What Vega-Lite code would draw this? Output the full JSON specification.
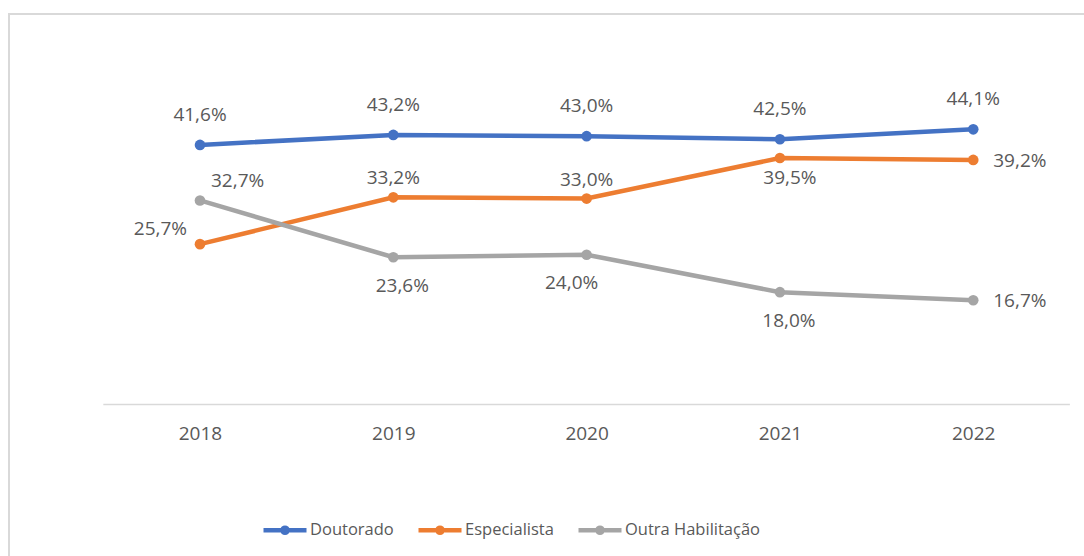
{
  "$schema": "https://vega.github.io/schema/vega-lite/v6.json",
  "width": 1075,
  "height": 542,
  "autosize": {"type": "none"},
  "padding": {"left": 9, "top": 14, "right": 0, "bottom": 0},
  "background": "white",
  "config": {
    "view": {"stroke": "#D9D9D9", "strokeWidth": 2, "strokeDash": [1075, 1617, 542]},
    "font": "Open Sans"
  },
  "data": {
    "values": [
      {"series": "Doutorado", "year": 2018, "value": 41.6},
      {"series": "Doutorado", "year": 2019, "value": 43.2},
      {"series": "Doutorado", "year": 2020, "value": 43.0},
      {"series": "Doutorado", "year": 2021, "value": 42.5},
      {"series": "Doutorado", "year": 2022, "value": 44.1},
      {"series": "Especialista", "year": 2018, "value": 25.7},
      {"series": "Especialista", "year": 2019, "value": 33.2},
      {"series": "Especialista", "year": 2020, "value": 33.0},
      {"series": "Especialista", "year": 2021, "value": 39.5},
      {"series": "Especialista", "year": 2022, "value": 39.2},
      {"series": "Outra Habilitação", "year": 2018, "value": 32.7},
      {"series": "Outra Habilitação", "year": 2019, "value": 23.6},
      {"series": "Outra Habilitação", "year": 2020, "value": 24.0},
      {"series": "Outra Habilitação", "year": 2021, "value": 18.0},
      {"series": "Outra Habilitação", "year": 2022, "value": 16.7}
    ]
  },
  "transform": [
    {"calculate": "replace(format(datum.value, '.1f'), '.', ',') + '%'", "as": "label"}
  ],
  "encoding": {
    "x": {
      "field": "year",
      "type": "quantitative",
      "scale": {"domain": [2017.012, 2022.573], "nice": false, "zero": false},
      "axis": {
        "values": [2018, 2019, 2020, 2021, 2022],
        "format": "d",
        "domain": false,
        "ticks": false,
        "grid": false,
        "title": null,
        "offset": -152,
        "labelPadding": 20,
        "labelFlush": false,
        "labelFont": "Open Sans",
        "labelFontSize": 19,
        "labelColor": "#595959"
      }
    },
    "y": {
      "field": "value",
      "type": "quantitative",
      "scale": {"domain": [-24.28, 62.58], "nice": false, "zero": false},
      "axis": null
    },
    "color": {
      "field": "series",
      "type": "nominal",
      "scale": {
        "domain": ["Doutorado", "Especialista", "Outra Habilitação"],
        "range": ["#4472C4", "#ED7D31", "#A5A5A5"]
      },
      "legend": {
        "orient": "none",
        "direction": "horizontal",
        "legendX": 252,
        "legendY": 492,
        "title": null,
        "symbolType": "M-1,0H1M0.12,0A0.12,0.12,0,1,1,-0.12,0A0.12,0.12,0,1,1,0.12,0",
        "symbolSize": 1849,
        "symbolStrokeWidth": 4.5,
        "labelFont": "Open Sans",
        "labelFontSize": 16.5,
        "labelColor": "#595959",
        "labelOffset": 1,
        "columnPadding": 15
      }
    }
  },
  "layer": [
    {
      "transform": [{"filter": "datum.series == 'Doutorado' && datum.year == 2018"}],
      "mark": {"type": "rule", "strokeWidth": 1.5},
      "encoding": {
        "x": {"datum": 2017.5},
        "x2": {"datum": 2022.5},
        "y": {"datum": 0},
        "color": {"value": "#D9D9D9"}
      }
    },
    {
      "mark": {"type": "line", "strokeWidth": 4.5}
    },
    {
      "mark": {"type": "point", "filled": true, "size": 113, "opacity": 1}
    },
    {
      "transform": [{"filter": "datum.series == 'Doutorado'"}],
      "mark": {"type": "text", "fontSize": 19, "baseline": "middle", "align": "center", "dy": -30},
      "encoding": {"text": {"field": "label"}, "color": {"value": "#595959"}}
    },
    {
      "transform": [{"filter": "datum.series == 'Especialista' && (datum.year == 2019 || datum.year == 2020)"}],
      "mark": {"type": "text", "fontSize": 19, "baseline": "middle", "align": "center", "dy": -19},
      "encoding": {"text": {"field": "label"}, "color": {"value": "#595959"}}
    },
    {
      "transform": [{"filter": "datum.series == 'Outra Habilitação' && (datum.year == 2019 || datum.year == 2021)"}],
      "mark": {"type": "text", "fontSize": 19, "baseline": "middle", "align": "center", "dx": 9, "dy": 29},
      "encoding": {"text": {"field": "label"}, "color": {"value": "#595959"}}
    },
    {
      "transform": [{"filter": "datum.series == 'Outra Habilitação' && datum.year == 2020"}],
      "mark": {"type": "text", "fontSize": 19, "baseline": "middle", "align": "center", "dx": -15, "dy": 28},
      "encoding": {"text": {"field": "label"}, "color": {"value": "#595959"}}
    },
    {
      "transform": [{"filter": "datum.series == 'Especialista' && datum.year == 2021"}],
      "mark": {"type": "text", "fontSize": 19, "baseline": "middle", "align": "center", "dx": 10, "dy": 20},
      "encoding": {"text": {"field": "label"}, "color": {"value": "#595959"}}
    },
    {
      "transform": [{"filter": "datum.year == 2022 && datum.series != 'Doutorado'"}],
      "mark": {"type": "text", "fontSize": 19, "baseline": "middle", "align": "left", "dx": 20, "dy": 1},
      "encoding": {"text": {"field": "label"}, "color": {"value": "#595959"}}
    },
    {
      "transform": [{"filter": "datum.series == 'Especialista' && datum.year == 2018"}],
      "mark": {"type": "text", "fontSize": 19, "baseline": "middle", "align": "right", "dx": -13, "dy": -15},
      "encoding": {"text": {"field": "label"}, "color": {"value": "#595959"}}
    },
    {
      "transform": [{"filter": "datum.series == 'Outra Habilitação' && datum.year == 2018"}],
      "mark": {"type": "text", "fontSize": 19, "baseline": "middle", "align": "left", "dx": 11, "dy": -19},
      "encoding": {"text": {"field": "label"}, "color": {"value": "#595959"}}
    }
  ]
}
